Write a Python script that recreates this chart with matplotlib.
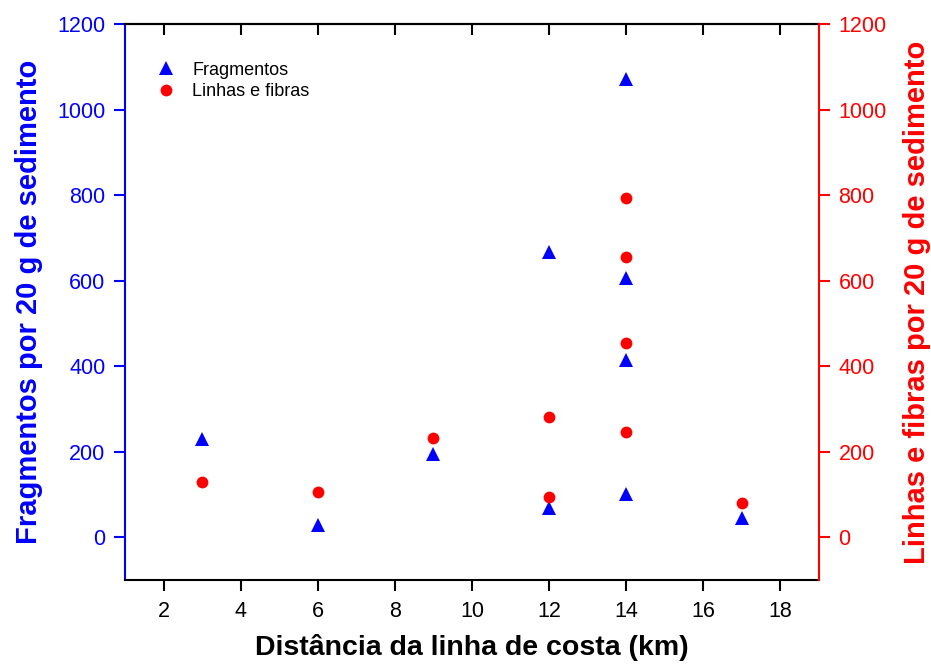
import matplotlib
matplotlib.use("Agg")
import matplotlib.pyplot as plt
from matplotlib.lines import Line2D

plt.rcParams['font.family'] = ['Liberation Sans', 'DejaVu Sans']

# Distance from the coast (km) for each sample
dist_frag = [3, 6, 9, 12, 12, 14, 14, 14, 14, 17]
fragmentos = [230, 28, 195, 666, 68, 1071, 606, 415, 102, 44]

dist_lin = [3, 6, 9, 12, 12, 14, 14, 14, 14, 17]
linhas_fibras = [128, 106, 233, 282, 93, 792, 655, 453, 246, 80]

x_ticks = [2, 4, 6, 8, 10, 12, 14, 16, 18]
y_ticks = [0, 200, 400, 600, 800, 1000, 1200]

BLUE = '#0000ff'
RED = '#ff0000'

fig = plt.figure(figsize=(9.31, 6.71), dpi=100)
ax = fig.add_axes([125 / 931, 91 / 671, 694 / 931, 556 / 671])
ax2 = ax.twinx()

ax.plot(dist_frag, fragmentos, linestyle='none', marker='^', markersize=9.5,
        color=BLUE, markeredgewidth=0)
ax2.plot(dist_lin, linhas_fibras, linestyle='none', marker='o', markersize=8.5,
         color=RED, markeredgewidth=0)

for a in (ax, ax2):
    a.set_xlim(1, 19)
    a.set_ylim(-100, 1200)

ax.set_xticks(x_ticks)
ax.set_yticks(y_ticks)
ax2.set_yticks(y_ticks)

# spines
ax.spines['right'].set_visible(False)
ax.spines['left'].set_color(BLUE)
ax.spines['bottom'].set_color('black')
ax.spines['top'].set_color('black')
for s in ('left', 'top', 'bottom'):
    ax2.spines[s].set_visible(False)
ax2.spines['right'].set_color(RED)
for a in (ax, ax2):
    for s in a.spines.values():
        s.set_linewidth(1.5)

TICK_FS = 15.5
ax.tick_params(axis='x', direction='out', length=8, width=1.5, pad=7,
               labelsize=TICK_FS, colors='black')
ax.tick_params(axis='y', direction='out', length=8, width=1.5, pad=6,
               labelsize=TICK_FS, colors=BLUE)
ax2.tick_params(axis='y', direction='out', length=8, width=1.5, pad=6,
                labelsize=TICK_FS, colors=RED)

# inward ticks along the top edge, no labels
top = ax.secondary_xaxis('top')
top.set_xticks(x_ticks)
top.tick_params(direction='in', length=8, width=1.5, labeltop=False)
top.spines['top'].set_linewidth(1.5)

ax.set_xlabel('Distância da linha de costa (km)', fontsize=20.5,
              fontweight='bold', color='black', labelpad=9)
ax.set_ylabel('Fragmentos por 20 g de sedimento', fontsize=21,
              fontweight='bold', color=BLUE, labelpad=10)
ax2.set_ylabel('Linhas e fibras por 20 g de sedimento', fontsize=21,
               fontweight='bold', color=RED, labelpad=12)

handles = [
    Line2D([], [], linestyle='none', marker='^', markersize=9.5, color=BLUE,
           markeredgewidth=0, label='Fragmentos'),
    Line2D([], [], linestyle='none', marker='o', markersize=8.5, color=RED,
           markeredgewidth=0, label='Linhas e fibras'),
]
ax2.legend(handles=handles, loc='upper left', bbox_to_anchor=(0.046, 0.932),
           frameon=False, fontsize=13, handlelength=1.0, handletextpad=0.95,
           borderpad=0, borderaxespad=0, labelspacing=0.25, numpoints=1)

fig.savefig('out.png', dpi=100)
